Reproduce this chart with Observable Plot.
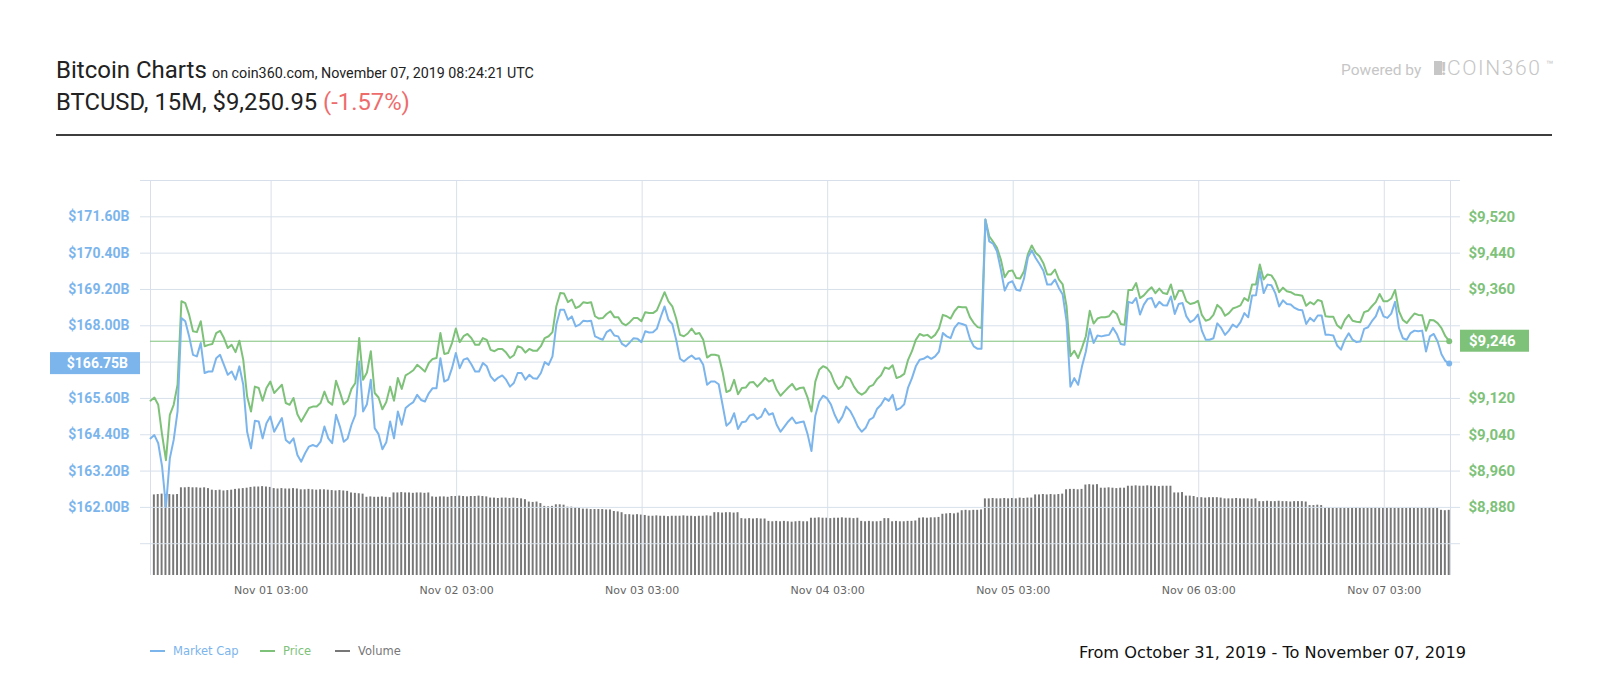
<!DOCTYPE html>
<html>
<head>
<meta charset="utf-8">
<script src="https://cdn.jsdelivr.net/npm/d3@7"></script>
<script src="https://cdn.jsdelivr.net/npm/@observablehq/plot@0.6"></script>
<style>
  html, body { margin: 0; padding: 0; background: #fff; }
  #wrap { position: relative; width: 1600px; height: 700px; overflow: hidden; }
  #wrap svg { position: absolute; left: 0; }
</style>
</head>
<body>
<div id="wrap"></div>
<script>
// ---------- DATA ----------
const startTime = "2019-10-31T11:24:00Z";   // first sample (display time)
const endDomain = "2019-11-07T11:34:00Z";   // right edge of the plot
const stepMinutes = 30;

// Market cap, $B
const marketCapB = [
164.28,164.39,164.12,163.35,162.02,163.62,164.23,165.17,168.26,168.15,
167.65,167.04,166.99,167.43,166.44,166.49,166.49,166.93,167.04,166.71,
166.38,166.49,166.22,166.66,166.05,164.50,163.95,164.86,164.84,164.28,
164.78,165.00,164.50,164.73,164.95,164.23,164.12,164.28,163.73,163.51,
163.79,164.01,164.06,164.01,164.17,164.67,164.28,164.12,165.06,164.67,
164.17,164.28,164.73,165.06,166.82,165.17,165.41,166.22,164.62,164.42,
163.92,164.15,164.84,164.28,165.17,164.73,165.28,165.39,165.48,165.72,
165.55,165.50,165.77,165.94,165.94,166.93,166.16,166.22,166.60,167.10,
166.60,166.88,166.93,166.73,166.49,166.49,166.77,166.66,166.33,166.18,
166.29,166.36,166.22,165.99,166.11,166.44,166.44,166.22,166.38,166.27,
166.25,166.44,166.80,166.71,166.99,168.04,168.53,168.53,168.20,168.31,
167.98,168.04,168.17,168.15,168.17,167.65,167.59,167.54,167.79,167.87,
167.68,167.65,167.40,167.32,167.45,167.59,167.57,167.46,167.82,167.78,
167.79,167.90,168.29,168.64,168.20,168.06,167.54,166.91,166.82,166.93,
167.02,166.90,166.93,166.71,166.05,166.16,166.16,166.07,165.39,164.70,
164.81,165.11,164.59,164.81,164.84,165.03,165.08,164.92,165.00,165.26,
165.06,165.11,164.73,164.50,164.67,164.84,164.97,164.78,164.81,164.84,
164.42,163.86,165.03,165.50,165.69,165.61,165.41,165.06,164.80,165.00,
165.33,165.19,164.95,164.67,164.50,164.62,164.89,164.97,165.26,165.39,
165.61,165.52,165.72,165.22,165.28,165.41,165.96,166.27,166.66,166.88,
166.91,166.99,166.91,166.99,167.15,167.76,167.65,167.59,167.93,168.09,
168.06,168.01,167.57,167.32,167.24,167.24,171.51,170.79,170.71,170.46,
169.86,169.16,169.42,169.47,169.19,169.16,169.56,170.26,170.49,170.24,
170.04,169.82,169.36,169.36,169.53,169.25,169.03,168.15,165.99,166.27,
166.05,166.66,167.15,167.90,167.43,167.68,167.65,167.68,167.70,167.93,
167.73,167.40,167.37,168.79,168.75,168.92,168.37,168.70,168.89,168.92,
168.61,168.79,168.68,168.67,168.97,168.39,168.72,168.75,168.31,168.12,
168.20,168.37,167.84,167.54,167.54,167.59,168.08,167.93,167.70,167.84,
168.04,167.95,168.12,168.42,168.28,169.00,169.01,169.80,169.08,169.36,
169.34,169.08,168.64,168.84,168.72,168.70,168.59,168.53,168.51,168.06,
168.26,168.15,168.34,168.34,167.70,167.70,167.68,167.35,167.21,167.54,
167.75,167.54,167.46,167.48,167.90,167.95,168.15,168.31,168.64,168.31,
168.26,168.40,168.79,167.93,167.59,167.54,167.76,167.84,167.82,167.84,
167.15,167.65,167.73,167.48,167.06,166.84,166.75
];

// Price, USD
const priceUSD = [
9115,9122,9106,9040,8984,9084,9106,9150,9334,9330,
9304,9268,9266,9290,9235,9238,9240,9264,9269,9253,
9231,9238,9222,9247,9205,9124,9091,9146,9143,9115,
9143,9157,9132,9141,9150,9110,9106,9121,9085,9069,
9084,9099,9102,9102,9110,9135,9113,9106,9159,9134,
9107,9115,9141,9154,9253,9161,9177,9224,9132,9122,
9096,9112,9146,9115,9165,9141,9171,9176,9182,9194,
9187,9179,9198,9207,9209,9264,9218,9220,9242,9274,
9244,9257,9262,9253,9238,9238,9253,9249,9227,9224,
9229,9229,9221,9209,9215,9235,9232,9221,9229,9225,
9225,9235,9253,9257,9266,9323,9352,9351,9332,9338,
9319,9323,9332,9330,9332,9301,9296,9297,9306,9312,
9299,9299,9286,9281,9288,9297,9297,9290,9310,9308,
9308,9314,9334,9354,9334,9323,9296,9260,9257,9263,
9274,9262,9264,9249,9210,9216,9216,9214,9179,9134,
9138,9161,9129,9143,9144,9155,9156,9146,9155,9165,
9157,9161,9139,9126,9135,9144,9152,9139,9143,9144,
9122,9091,9157,9183,9191,9187,9176,9154,9141,9148,
9168,9163,9146,9134,9128,9134,9146,9150,9163,9171,
9188,9185,9193,9165,9168,9174,9205,9224,9249,9262,
9258,9260,9253,9260,9274,9304,9301,9296,9312,9322,
9321,9321,9299,9286,9277,9275,9514,9477,9465,9452,
9426,9387,9400,9402,9385,9384,9400,9438,9457,9441,
9433,9418,9393,9393,9404,9382,9371,9323,9213,9225,
9209,9232,9257,9313,9285,9296,9299,9299,9301,9313,
9306,9284,9282,9359,9359,9374,9341,9347,9357,9365,
9352,9362,9352,9350,9371,9338,9357,9357,9334,9328,
9330,9335,9304,9291,9294,9304,9326,9318,9302,9308,
9318,9321,9325,9341,9335,9371,9371,9415,9382,9393,
9391,9378,9354,9364,9356,9354,9349,9348,9346,9324,
9332,9327,9337,9334,9301,9300,9300,9281,9274,9293,
9304,9291,9289,9288,9310,9313,9323,9332,9350,9334,
9334,9340,9359,9312,9293,9286,9297,9307,9304,9303,
9269,9293,9292,9286,9275,9257,9246
];

// Volume (rolling 24h), $B
const volumeB = [
20.5,20.4,20.5,20.6,20.5,20.5,20.4,20.5,
22.2,22.2,22.3,22.2,22.2,22.1,22.2,22.0,
21.6,21.5,21.6,21.4,21.5,21.6,
21.8,21.9,22.0,22.1,
22.3,22.4,22.4,22.5,22.4,22.3,
22.0,21.9,22.0,21.9,21.9,22.0,21.9,
21.7,21.7,21.8,21.7,21.6,21.7,21.7,21.6,
21.5,21.4,21.5,21.4,21.3,
20.9,20.8,20.7,20.6,
19.8,19.9,19.8,19.8,19.9,19.8,19.7,
20.9,20.9,21.0,20.9,20.9,20.8,20.9,20.9,20.8,20.9,
19.9,19.8,19.9,19.9,19.8,
20.0,20.0,20.1,20.0,19.9,20.0,20.0,20.1,20.0,19.9,
19.6,19.6,19.5,19.6,19.6,19.5,19.6,19.5,19.4,
19.2,
18.6,18.5,18.6,
18.2,
17.5,17.4,17.5,
17.9,17.9,17.8,
17.3,17.3,17.2,17.0,
16.8,16.8,16.7,16.7,16.7,16.7,16.6,16.6,
16.2,16.1,15.9,
15.4,15.4,15.3,15.4,15.3,15.2,
15.0,15.0,15.1,15.0,15.0,14.9,15.0,15.0,15.0,15.1,15.0,15.0,14.9,15.0,15.0,15.1,15.0,
15.9,15.9,15.8,15.9,15.9,15.8,15.9,
14.4,14.3,14.4,14.3,14.4,14.3,14.3,
13.7,13.6,13.7,13.6,13.7,13.6,13.5,13.6,13.7,13.6,13.6,
14.5,14.5,14.6,14.5,14.5,14.4,14.5,14.5,14.6,14.5,14.5,14.4,14.5,
13.7,13.6,13.7,13.6,13.6,13.7,
14.4,14.4,
13.6,13.7,13.6,13.6,13.7,13.7,13.8,
14.5,14.6,14.5,14.6,14.6,14.7,
15.5,15.6,15.7,15.6,15.8,
16.4,16.5,16.4,16.5,16.5,16.6,
19.4,19.4,19.5,19.4,19.4,19.5,19.4,19.5,19.4,
19.6,19.5,19.6,19.6,
20.4,20.4,20.5,20.4,20.5,20.4,20.5,20.6,
21.7,21.8,21.8,21.7,21.8,
22.9,23.0,22.9,23.0,
22.1,22.1,22.2,22.1,22.0,22.1,22.1,
22.6,22.6,22.7,22.6,22.6,22.7,22.6,22.6,22.5,22.6,22.6,22.6,
20.9,20.9,21.0,
20.1,20.1,20.0,
19.7,19.7,19.6,19.7,19.7,19.7,19.6,
19.4,19.4,19.4,19.5,19.4,19.4,19.4,19.3,19.4,
18.7,18.7,18.8,18.7,18.7,18.8,18.7,18.7,18.6,18.7,18.7,18.7,18.6,
17.7,17.7,17.8,17.7,
17.0,17.1,17.0,17.0,17.1,17.0,17.0,17.0,17.1,17.0,17.0,17.0,17.0,17.1,17.0,17.0,17.0,17.1,17.0,17.0,17.0,17.0,17.1,17.0,17.0,17.0,17.0,17.1,17.0,17.0,
16.5,16.4,16.5
];

// Axis ticks
const dayTicks = ["2019-11-01T03:00:00Z","2019-11-02T03:00:00Z","2019-11-03T03:00:00Z","2019-11-04T03:00:00Z","2019-11-05T03:00:00Z","2019-11-06T03:00:00Z","2019-11-07T03:00:00Z"];
const mcTicks = [162.0, 163.2, 164.4, 165.6, 168.0, 169.2, 170.4, 171.6];
const priceTicks = [8880, 8960, 9040, 9120, 9360, 9440, 9520];
const gridPrices = [8800, 8880, 8960, 9040, 9120, 9200, 9280, 9360, 9440, 9520, 9600];
const mcDomain = [159.75, 172.8];
const priceDomain = [8730, 9600];
const volumeDomain = [0, 100];

// Texts
const titleMain = "Bitcoin Charts";
const titleSub = "on coin360.com, November 07, 2019 08:24:21 UTC";
const subtitleMain = "BTCUSD, 15M, $9,250.95";
const subtitleChange = "(-1.57%)";
const legendItems = [["Market Cap", "#7cb5ec"], ["Price", "#7ec27a"], ["Volume", "#777777"]];
const captionText = "From October 31, 2019 - To November 07, 2019";

// ---------- BUILD ----------
const BLUE = "#7cb5ec", GREEN = "#7ec27a", GRID = "#d7e0ea", VOL = "#777777";
const n = Math.min(marketCapB.length, priceUSD.length, volumeB.length);
const t0 = new Date(startTime).getTime();
const rows = d3.range(n).map(i => ({
  t: new Date(t0 + i * stepMinutes * 60000),
  mc: marketCapB[i], price: priceUSD[i], vol: volumeB[i]
}));
const last = rows[n - 1];
const xDomain = [new Date(startTime), new Date(endDomain)];
const ticks = dayTicks.map(d => new Date(d));
const half = stepMinutes * 30000;

const common = {
  width: 1600, height: 460,
  marginLeft: 150, marginRight: 150, marginTop: 30, marginBottom: 35
};

const wrap = document.getElementById("wrap");
const TOP = 150;

// Volume layer + x axis
const plotV = Plot.plot({
  ...common,
  style: {background: "transparent", overflow: "visible", fontFamily: "DejaVu Sans", fontSize: "11px", color: "#666"},
  x: {type: "utc", domain: xDomain, ticks: ticks, tickFormat: d3.utcFormat("%b %d %H:%M"), tickSize: 0, tickPadding: 11, label: null},
  y: {domain: volumeDomain, axis: null, label: null},
  marks: [
    Plot.rectY(rows, {x1: d => new Date(+d.t - half), x2: d => new Date(+d.t + half), y: "vol", fill: VOL, insetLeft: 0.95, insetRight: 0.95, clip: true})
  ]
});

// Price layer with grid + right axis
const plotP = Plot.plot({
  ...common,
  style: {background: "transparent", overflow: "visible", fontFamily: "Roboto", fontSize: "15px", fontWeight: "bold", color: GREEN},
  x: {type: "utc", domain: xDomain, axis: null, label: null},
  y: {domain: priceDomain, axis: "right", ticks: priceTicks, tickFormat: d => "$" + d3.format(",")(d), tickSize: 0, tickPadding: 18, label: null},
  marks: [
    Plot.ruleY(gridPrices, {stroke: GRID, strokeWidth: 1, insetLeft: -10, insetRight: -10}),
    Plot.ruleX([xDomain[0], ...ticks, xDomain[1]], {stroke: GRID, strokeWidth: 1}),
    Plot.line(rows, {x: "t", y: "price", stroke: GREEN, strokeWidth: 2}),
    Plot.ruleY([last.price], {stroke: GREEN, strokeWidth: 1}),
    Plot.dot([last], {x: "t", y: "price", r: 3, fill: GREEN})
  ]
});

// Market cap layer + left axis
const plotM = Plot.plot({
  ...common,
  style: {background: "transparent", overflow: "visible", fontFamily: "Roboto", fontSize: "14px", fontWeight: "bold", color: BLUE},
  x: {type: "utc", domain: xDomain, axis: null, label: null},
  y: {domain: mcDomain, axis: "left", ticks: mcTicks, tickFormat: d => "$" + d.toFixed(2) + "B", tickSize: 0, tickPadding: 21, label: null},
  marks: [
    Plot.line(rows, {x: "t", y: "mc", stroke: BLUE, strokeWidth: 2}),
    Plot.dot([last], {x: "t", y: "mc", r: 3, fill: BLUE})
  ]
});

for (const p of [plotV, plotP, plotM]) {
  p.style.position = "absolute";
  p.style.left = "0px";
  p.style.top = TOP + "px";
  p.style.maxWidth = "none";
  wrap.appendChild(p);
}

// current value labels (positioned through the plots' own y scales)
const pyP = plotP.scale("y").apply(last.price);
const gP = d3.select(plotM).append("g");
gP.append("rect").attr("x", 1460).attr("y", pyP - 11).attr("width", 69).attr("height", 22).attr("fill", GREEN);
gP.append("text").attr("x", 1469).attr("y", pyP).attr("dy", "0.36em").attr("text-anchor", "start").attr("fill", "#fff")
  .attr("font-family", "Roboto").attr("font-weight", "bold").attr("font-size", 15)
  .text("$" + d3.format(",")(last.price));

const pyM = plotM.scale("y").apply(last.mc);
const gM = d3.select(plotM).append("g");
gM.append("rect").attr("x", 50).attr("y", pyM - 11).attr("width", 90).attr("height", 22).attr("fill", BLUE);
gM.append("text").attr("x", 128).attr("y", pyM).attr("dy", "0.36em").attr("text-anchor", "end").attr("fill", "#fff")
  .attr("font-family", "Roboto").attr("font-weight", "bold").attr("font-size", 14)
  .text("$" + last.mc.toFixed(2) + "B");

// ---------- header, legend, caption ----------
const deco = d3.select(wrap).append("svg")
  .attr("width", 1600).attr("height", 700)
  .style("top", "0px").style("pointer-events", "none");

deco.append("text").attr("x", 56).attr("y", 78).attr("font-family", "Roboto").attr("font-size", 24).attr("fill", "#222").text(titleMain);
deco.append("text").attr("x", 212).attr("y", 78).attr("font-family", "Roboto").attr("font-size", 14.3).attr("fill", "#222").text(titleSub);
const sub = deco.append("text").attr("x", 56).attr("y", 110).attr("font-family", "Roboto").attr("font-size", 23.8).attr("fill", "#222");
sub.append("tspan").text(subtitleMain + " ");
sub.append("tspan").attr("fill", "#ee6c6c").text(subtitleChange);
deco.append("rect").attr("x", 56).attr("y", 134).attr("width", 1496).attr("height", 2).attr("fill", "#3d3d3d");

// Powered by COIN360
deco.append("text").attr("x", 1341).attr("y", 75).attr("font-family", "Roboto").attr("font-size", 15.5).attr("fill", "#c6c6c6").text("Powered by");
deco.append("rect").attr("x", 1434).attr("y", 61).attr("width", 8).attr("height", 14).attr("fill", "#c6c6c6");
deco.append("text").attr("x", 1441).attr("y", 75).attr("font-family", "Roboto").attr("font-weight", "bold").attr("font-size", 19).attr("fill", "#c6c6c6").text("!");
deco.append("text").attr("x", 1447).attr("y", 75).attr("font-family", "Roboto").attr("font-weight", 300).attr("font-size", 21).attr("letter-spacing", 1.6).attr("fill", "#c6c6c6").text("COIN360");
deco.append("text").attr("x", 1546).attr("y", 69).attr("font-family", "Roboto").attr("font-size", 12).attr("fill", "#c6c6c6").text("™");

// legend
const legendX = [150, 260, 335];
legendItems.forEach(([label, color], i) => {
  const x = legendX[i];
  deco.append("line").attr("x1", x).attr("x2", x + 15).attr("y1", 651).attr("y2", 651).attr("stroke", color).attr("stroke-width", 2);
  deco.append("text").attr("x", x + 23).attr("y", 655).attr("font-family", "DejaVu Sans").attr("font-size", 11.5).attr("fill", color).text(label);
});

// caption
deco.append("text").attr("x", 1079).attr("y", 658).attr("font-family", "DejaVu Sans").attr("font-size", 16.2).attr("fill", "#111").text(captionText);
</script>
</body>
</html>
